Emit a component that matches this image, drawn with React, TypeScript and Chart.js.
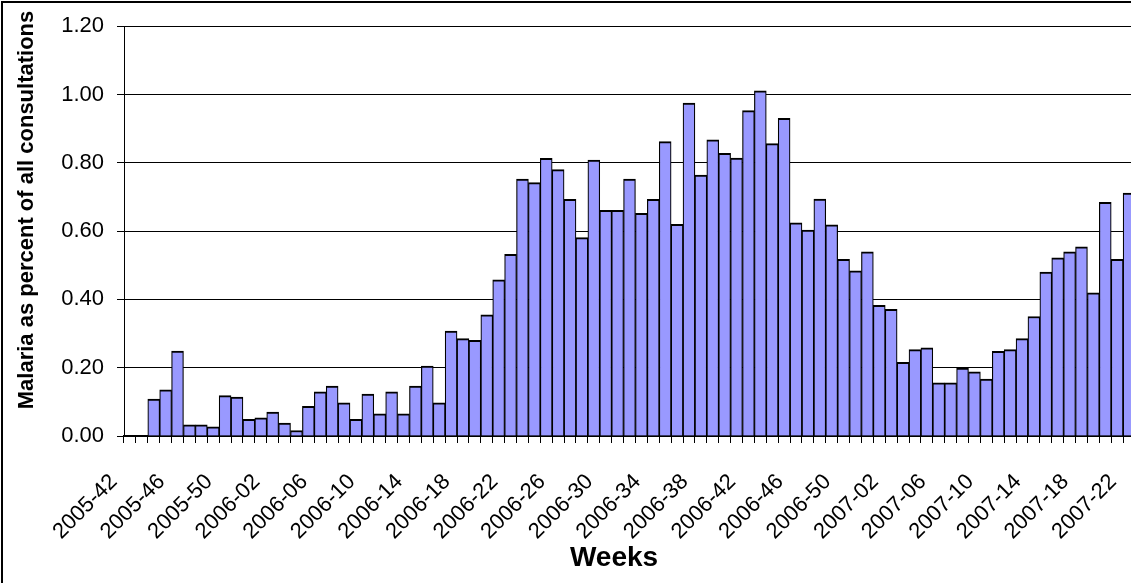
import React, { useEffect, useRef } from "react";
import { Chart, registerables } from "chart.js";

Chart.register(...registerables);

const weeks: string[] = [
  "2005-42", "2005-43", "2005-44", "2005-45", "2005-46", "2005-47", "2005-48", "2005-49", "2005-50", "2005-51", "2005-52",
  "2006-01", "2006-02", "2006-03", "2006-04", "2006-05", "2006-06", "2006-07", "2006-08", "2006-09", "2006-10",
  "2006-11", "2006-12", "2006-13", "2006-14", "2006-15", "2006-16", "2006-17", "2006-18", "2006-19", "2006-20",
  "2006-21", "2006-22", "2006-23", "2006-24", "2006-25", "2006-26", "2006-27", "2006-28", "2006-29", "2006-30",
  "2006-31", "2006-32", "2006-33", "2006-34", "2006-35", "2006-36", "2006-37", "2006-38", "2006-39", "2006-40",
  "2006-41", "2006-42", "2006-43", "2006-44", "2006-45", "2006-46", "2006-47", "2006-48", "2006-49", "2006-50",
  "2006-51", "2006-52",
  "2007-01", "2007-02", "2007-03", "2007-04", "2007-05", "2007-06", "2007-07", "2007-08", "2007-09", "2007-10",
  "2007-11", "2007-12", "2007-13", "2007-14", "2007-15", "2007-16", "2007-17", "2007-18", "2007-19", "2007-20",
  "2007-21", "2007-22",
];

const malariaPct: (number | null)[] = [
  null, null, 0.108, 0.135, 0.249, 0.033, 0.033, 0.027, 0.118, 0.114, 0.049,
  0.053, 0.070, 0.038, 0.016, 0.087, 0.129, 0.146, 0.097, 0.049, 0.123,
  0.065, 0.129, 0.065, 0.146, 0.205, 0.097, 0.307, 0.285, 0.280, 0.355,
  0.457, 0.532, 0.752, 0.742, 0.813, 0.780, 0.693, 0.581, 0.808, 0.661,
  0.661, 0.752, 0.652, 0.693, 0.862, 0.620, 0.975, 0.764, 0.867, 0.828,
  0.814, 0.953, 1.011, 0.856, 0.930, 0.624, 0.603, 0.694, 0.618, 0.517,
  0.484, 0.539,
  0.383, 0.371, 0.216, 0.253, 0.258, 0.156, 0.156, 0.199, 0.188, 0.167,
  0.248, 0.253, 0.285, 0.350, 0.480, 0.522, 0.539, 0.554, 0.419, 0.684,
  0.517, 0.711,
];

const yMin = 0;
const yMax = 1.2;
const yStep = 0.2;
const xLabelEvery = 4;

const yTitle = "Malaria as percent of all consultations";
const xTitle = "Weeks";

const FONT = "'Liberation Sans', Arial, Helvetica, sans-serif";
const W = 1135;
const H = 583;

const framePlugin = {
  id: "frameAndTitles",
  beforeDraw(chart: any) {
    const ctx = chart.ctx;
    ctx.save();
    ctx.fillStyle = "#ffffff";
    ctx.fillRect(0, 0, chart.width, chart.height);
    ctx.restore();
  },
  afterDraw(chart: any) {
    const ctx = chart.ctx;
    ctx.save();
    ctx.fillStyle = "#000000";
    ctx.fillRect(1, 1, 2, chart.height);
    ctx.fillRect(1, 1, chart.width, 2);

    ctx.font = `bold 28px ${FONT}`;
    ctx.textAlign = "center";
    ctx.textBaseline = "alphabetic";
    ctx.fillText(xTitle, 614, 566);

    ctx.translate(33, 210);
    ctx.rotate(-Math.PI / 2);
    ctx.font = `bold 22px ${FONT}`;
    ctx.fillText(yTitle, 0, 0);
    ctx.restore();
  },
};

export default function App() {
  const canvasRef = useRef<HTMLCanvasElement | null>(null);

  useEffect(() => {
    document.body.style.margin = "0";
    const canvas = canvasRef.current;
    if (!canvas) return;
    const chart = new Chart(canvas, {
      type: "bar",
      data: {
        labels: weeks,
        datasets: [
          {
            data: malariaPct as any,
            backgroundColor: "#9999ff",
            borderColor: "#000000",
            borderWidth: { top: 2, left: 1.2, right: 1.2, bottom: 0 } as any,
            borderSkipped: false as any,
            barPercentage: 1,
            categoryPercentage: 1,
          },
        ],
      },
      options: {
        responsive: false,
        animation: false,
        devicePixelRatio: 1,
        layout: { padding: { top: 24, left: 0, right: 0, bottom: 0 } },
        plugins: {
          legend: { display: false },
          tooltip: { enabled: false },
          title: { display: false },
        },
        scales: {
          x: {
            offset: true,
            grid: {
              offset: true,
              drawOnChartArea: false,
              drawTicks: true,
              tickLength: 7,
              color: "#000000",
              lineWidth: 1,
            },
            border: { color: "#000000", width: 2 },
            ticks: {
              autoSkip: false,
              maxRotation: 45,
              minRotation: 45,
              labelOffset: -16,
              padding: 26,
              color: "#000000",
              font: { family: FONT, size: 22 },
              callback: (_v: any, i: number) => (i % xLabelEvery === 0 ? weeks[i] : ""),
            },
            afterFit: (s: any) => {
              s.height = 147;
              s.paddingLeft = 0;
              s.paddingRight = 0;
            },
          },
          y: {
            min: yMin,
            max: yMax,
            ticks: {
              stepSize: yStep,
              padding: 13,
              color: "#000000",
              font: { family: FONT, size: 22 },
              callback: (v: any) => Number(v).toFixed(2),
            },
            grid: {
              color: "#000000",
              lineWidth: 1,
              drawTicks: true,
              tickLength: 7,
            },
            border: { color: "#000000", width: 1 },
            afterFit: (s: any) => {
              s.width = 124;
            },
          },
        },
      },
      plugins: [framePlugin],
    });
    return () => chart.destroy();
  }, []);

  return (
    <div style={{ width: 1131, height: 583, overflow: "hidden", position: "relative", background: "#fff" }}>
      <canvas ref={canvasRef} width={W} height={H} style={{ display: "block", width: W, height: H }} />
    </div>
  );
}
